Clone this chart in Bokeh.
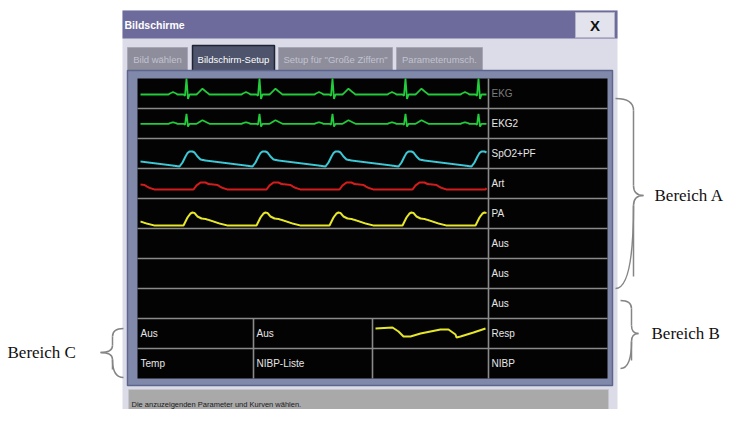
import numpy as np
from bokeh.plotting import figure
from bokeh.models import Range1d
from bokeh.core.properties import value
from bokeh.embed import file_html
from bokeh.resources import INLINE

# ---------------- data ----------------
title_text = "Bildschirme"
tab_labels = ["Bild wählen", "Bildschirm-Setup", 'Setup für "Große Ziffern"', "Parameterumsch."]
active_tab = 1
row_labels = ["EKG", "EKG2", "SpO2+PF", "Art", "PA", "Aus", "Aus", "Aus", "Resp", "NIBP"]
row_label_colors = ["#7c7c7c"] + ["#e6e6e6"] * 9
cell_labels_a = ["Aus", "Aus"]
cell_labels_b = ["Temp", "NIBP-Liste"]
status_text = "Die anzuzeigenden Parameter und Kurven wählen."
region_labels = ["Bereich A", "Bereich B", "Bereich C"]

# ECG beat template: offset from R peak (px of a 73 px beat) and amplitude (mV)
ecg_dx = [-36.5, -18, -16, -13.5, -11, -9, -3, -1.5, 0, 1.5, 3, 5, 10, 13, 16, 19, 23, 36.5]
ecg_mv = [0, 0, 0.08, 0.15, 0.08, 0, 0, -0.08, 1.0, -0.28, 0, 0, 0, 0.18, 0.36, 0.2, 0, 0]
# SpO2 pleth template: offset from pulse onset, amplitude
spo2_dx = [0, 3, 6, 8, 10, 13, 15, 18, 21, 26, 34, 50, 66, 73]
spo2_amp = [0, 4, 10, 13.5, 15, 15, 14, 10, 7, 6, 5, 3, 1, 0]
# Arterial pressure template
art_dx = [0, 3, 7, 12, 15, 20, 24, 28, 34, 73]
art_amp = [0, 4, 7, 7, 5.5, 5, 4.5, 2, 0, 0]
# PA pressure template
pa_dx = [0, 4, 7, 9, 11, 14, 18, 22, 27, 36, 44, 73]
pa_amp = [0, 8, 12, 13, 12.5, 9, 7, 6.5, 5, 2, 0, 0]
# Respiration trace
resp_t = [0, 17, 23, 28, 35, 45, 65, 73, 80, 81, 85, 98, 110]
resp_amp = [9, 10, 6, 1, 1, 4, 8, 8, 3, 0, 1, 5, 9]

# ---------------- figure ----------------
p = figure(width=729, height=409, x_range=Range1d(0, 729), y_range=Range1d(409, 0),
           output_backend="svg", toolbar_location=None, min_border=0)
p.axis.visible = False
p.grid.visible = False
p.outline_line_color = None
p.background_fill_color = "white"
p.border_fill_color = "white"

UI = value("Liberation Sans")
SERIF = value("Liberation Serif")

# dialog body
p.quad(left=[122], right=[617], top=[10], bottom=[430], fill_color="#dcdce9", line_color=None)
# title bar
p.quad(left=[122], right=[617], top=[10], bottom=[38], fill_color="#6d6b9b", line_color=None)
p.text(x=[124], y=[24.5], text=[title_text], text_font=UI, text_font_style="bold",
       text_font_size=value("10.5px"), text_color="white", text_baseline="middle")
# close button
p.quad(left=[575], right=[614], top=[12], bottom=[37], fill_color="#e3e3ee", line_color="#b4b4c6")
p.text(x=[594.5], y=[25], text=["X"], text_font=UI, text_font_style="bold",
       text_font_size=value("15px"), text_color="#111111", text_align="center", text_baseline="middle")

# tabs
tab_l = [127, 192, 278, 396]
tab_r = [187, 274, 392, 482]
for i, lab in enumerate(tab_labels):
    if i == active_tab:
        p.quad(left=[tab_l[i]], right=[tab_r[i]], top=[45], bottom=[72], fill_color="#4d546c",
               line_color="#1e2434", line_width=1.5)
        col = "white"
    else:
        p.quad(left=[tab_l[i]], right=[tab_r[i]], top=[47], bottom=[71], fill_color="#8d8d9c",
               line_color="#a6a6b6", line_width=1)
        col = "#c2c3cf"
    p.text(x=[(tab_l[i] + tab_r[i]) / 2], y=[59], text=[lab], text_font=UI,
           text_font_size=value("9.5px"), text_color=col, text_align="center", text_baseline="middle")

# main frame and black screen
p.quad(left=[127], right=[612], top=[70], bottom=[385], fill_color="#8189aa", line_color="#5d658c", line_width=1.5)
p.quad(left=[137], right=[607], top=[78], bottom=[378], fill_color="#030303", line_color=None)

# grid lines
row_top = 78
row_h = 30
ys = [row_top + row_h * (k + 1) for k in range(len(row_labels) - 1)]
p.segment(x0=[137] * len(ys), x1=[607] * len(ys), y0=ys, y1=ys, line_color="#8a8a8a", line_width=1.6)
p.segment(x0=[488, 253, 372], x1=[488, 253, 372], y0=[78, 318, 318], y1=[378, 378, 378],
          line_color="#8a8a8a", line_width=1.6)

# row labels
centers = [row_top + row_h * k + 15 for k in range(len(row_labels))]
p.text(x=[491] * len(row_labels), y=centers, text=row_labels, text_color=row_label_colors,
       text_font=UI, text_font_size=value("10px"), text_baseline="middle")
p.text(x=[140, 256], y=[centers[8]] * 2, text=cell_labels_a, text_color="#e6e6e6",
       text_font=UI, text_font_size=value("10px"), text_baseline="middle")
p.text(x=[140, 256], y=[centers[9]] * 2, text=cell_labels_b, text_color="#e6e6e6",
       text_font=UI, text_font_size=value("10px"), text_baseline="middle")

# waveforms
xs = np.arange(140, 486.01, 0.5)
period = 73.0

def ecg(x, r0, base, gain):
    rel = ((x - r0 + period / 2) % period) - period / 2
    return base - gain * np.interp(rel, ecg_dx, ecg_mv)

def periodic(x, onset, base, dx, amp):
    rel = (x - onset) % period
    return base - np.interp(rel, dx, amp)

p.line(xs, ecg(xs, 186, 94, 16), line_color="#22cc3a", line_width=1.8)
p.line(xs, ecg(xs, 186, 123.3, 10), line_color="#22cc3a", line_width=1.8)
p.line(xs, periodic(xs, 179, 166, spo2_dx, spo2_amp), line_color="#3cc8d4", line_width=2)
p.line(xs, periodic(xs, 193, 189, art_dx, art_amp), line_color="#d41c1c", line_width=2)
p.line(xs, periodic(xs, 183, 225, pa_dx, pa_amp), line_color="#e6e62a", line_width=2)
rx = np.array(resp_t) + 375
p.line(rx, 337 - np.array(resp_amp), line_color="#e6e62a", line_width=2)

# status bar
p.quad(left=[128], right=[608], top=[389], bottom=[420], fill_color="#a9a9aa", line_color="#c4c4cc")
p.text(x=[131], y=[404], text=[status_text], text_font=UI, text_font_size=value("7.5px"),
       text_color="#1a1a1a", text_baseline="middle")

# braces
bc = "#858585"
# Bereich A (right-pointing)
p.quadratic(x0=[615, 633, 643, 633], y0=[98, 185, 195, 205],
            x1=[633, 643, 633, 615], y1=[110, 195, 205, 288],
            cx=[633, 633, 633, 633], cy=[98, 195, 195, 288], line_color=bc, line_width=1.5)
p.segment(x0=[633, 633], x1=[633, 633], y0=[110, 205], y1=[185, 276], line_color=bc, line_width=1.5)
# Bereich B
p.quadratic(x0=[620, 631, 638, 631], y0=[300, 325, 333, 341],
            x1=[631, 638, 631, 620], y1=[308, 333, 341, 368],
            cx=[631, 631, 631, 631], cy=[300, 333, 333, 368], line_color=bc, line_width=1.5)
p.segment(x0=[631, 631], x1=[631, 631], y0=[308, 341], y1=[325, 360], line_color=bc, line_width=1.5)
# Bereich C (left-pointing)
p.quadratic(x0=[123, 112, 100, 112], y0=[328, 345, 352, 359],
            x1=[112, 100, 112, 123], y1=[336, 352, 359, 377],
            cx=[112, 112, 112, 112], cy=[328, 352, 352, 377], line_color=bc, line_width=1.5)
p.segment(x0=[112, 112], x1=[112, 112], y0=[336, 359], y1=[345, 369], line_color=bc, line_width=1.5)

p.text(x=[654, 651, 7], y=[195, 333, 352], text=region_labels, text_font=SERIF,
       text_font_size=value("17px"), text_color="#111111", text_baseline="middle")

open("out.html", "w").write(file_html(p, INLINE))
